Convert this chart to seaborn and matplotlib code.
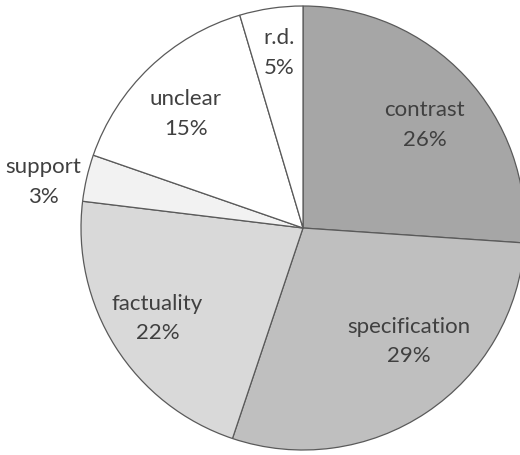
import matplotlib
matplotlib.use("Agg")
import matplotlib.pyplot as plt
import seaborn as sns
import numpy as np

# shares (percent)
categories = ["contrast", "specification", "factuality", "support", "unclear", "r.d."]
shares = [26.1, 29.1, 21.8, 3.4, 15.1, 4.6]

colors = ["#a6a6a6", "#bfbfbf", "#d9d9d9", "#f2f2f2", "#ffffff", "#ffffff"]
# label placement: distance from centre (radius units) and angle nudge (deg)
label_dist = [0.72, 0.695, 0.77, 1.19, 0.74, 0.80]
label_shift = [-2.6, 9.4, -0.7, 2.8, 1.9, -0.6]

sns.set_theme(style="white")
plt.rcParams['font.family'] = ['Lato', 'DejaVu Sans']

fig = plt.figure(figsize=(5.2, 4.56), dpi=100)
ax = fig.add_axes([0, 0, 1, 1])

wedges, _ = ax.pie(shares, colors=colors, startangle=90, counterclock=False,
                   wedgeprops=dict(edgecolor="#5a5a5a", linewidth=0.9))

total = sum(shares)
for w, name, v, d, s in zip(wedges, categories, shares, label_dist, label_shift):
    mid = np.deg2rad((w.theta1 + w.theta2) / 2 + s)
    ax.text(d * np.cos(mid), d * np.sin(mid),
            f"{name}\n{round(v / total * 100):.0f}%",
            ha="center", va="center", fontsize=16, color="#404040",
            linespacing=1.6)

r = 222.0
ax.set_xlim(-303 / r, (520 - 303) / r)
ax.set_ylim(-(456 - 229) / r, 229 / r)
ax.set_aspect("equal")
ax.axis("off")

fig.savefig("out.png", dpi=100)
